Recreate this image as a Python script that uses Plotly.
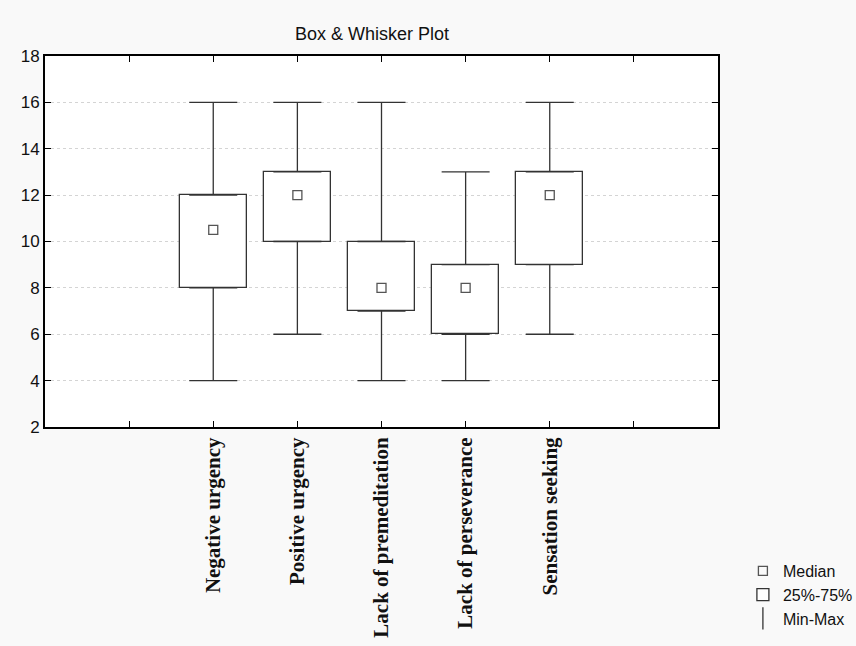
import plotly.graph_objects as go

categories = ["Negative urgency", "Positive urgency", "Lack of premeditation",
              "Lack of perseverance", "Sensation seeking"]
mins = [4, 6, 4, 4, 6]
q1s = [8, 10, 7, 6, 9]
medians = [10.5, 12, 8, 8, 12]
q3s = [12, 13, 10, 9, 13]
maxs = [16, 16, 16, 13, 16]
y_ticks = [2, 4, 6, 8, 10, 12, 14, 16, 18]

xs = [i + 2 for i in range(len(categories))]
line_col = "#333333"

fig = go.Figure()
# boxes (25%-75%)
fig.add_trace(go.Bar(
    x=xs, y=[b - a for a, b in zip(q1s, q3s)], base=q1s, width=0.8,
    marker=dict(color="white", line=dict(color=line_col, width=1.3)),
    name="25%-75%", showlegend=True, legendrank=2, hoverinfo="skip"))
# upper whiskers
fig.add_trace(go.Scatter(
    x=xs, y=q3s, mode="markers", marker=dict(size=1, opacity=0),
    error_y=dict(type="data", symmetric=False,
                 array=[m - q for m, q in zip(maxs, q3s)],
                 arrayminus=[0] * len(xs), color=line_col, thickness=1.3, width=24),
    showlegend=False, hoverinfo="skip"))
# lower whiskers
fig.add_trace(go.Scatter(
    x=xs, y=q1s, mode="markers", marker=dict(size=1, opacity=0),
    error_y=dict(type="data", symmetric=False,
                 array=[0] * len(xs),
                 arrayminus=[q - m for m, q in zip(mins, q1s)],
                 color=line_col, thickness=1.3, width=24),
    showlegend=False, hoverinfo="skip"))
# medians
fig.add_trace(go.Scatter(
    x=xs, y=medians, mode="markers",
    marker=dict(symbol="square-open", size=9, color="#555555", line=dict(width=1.3)),
    name="Median", legendrank=1))
# legend entry for min-max
fig.add_trace(go.Scatter(
    x=[None], y=[None], mode="markers",
    marker=dict(symbol="line-ns-open", size=16, color=line_col, line=dict(width=1.3)),
    name="Min-Max", legendrank=3))

fig.update_layout(
    width=856, height=646,
    paper_bgcolor="#f9f9f9", plot_bgcolor="white",
    margin=dict(l=45, r=138, t=56, b=219, autoexpand=False),
    title=dict(text="Box & Whisker Plot", x=372 / 856, xanchor="center",
               y=1 - 34 / 646, yanchor="middle",
               font=dict(family="Liberation Sans, Arial", size=18, color="#111111")),
    font=dict(family="Liberation Sans, Arial", size=17, color="#111111"),
    showlegend=True,
    legend=dict(x=1.037, y=-0.342, xanchor="left", yanchor="top", bgcolor="rgba(0,0,0,0)",
                font=dict(size=16), itemwidth=30, tracegroupgap=0),
    bargap=0,
)
fig.update_xaxes(
    range=[0, 8], tickmode="array", tickvals=[1] + xs + [7],
    ticktext=[""] + [f"<b>{c}</b>" for c in categories] + [""],
    tickangle=-90, ticks="inside", ticklen=6, tickcolor="black",
    showline=True, linecolor="black", linewidth=2, mirror="ticks",
    showgrid=False, zeroline=False,
    tickfont=dict(family="Liberation Serif, Times New Roman", size=21, color="#111111"))
fig.update_yaxes(
    range=[2, 18], tickmode="array", tickvals=y_ticks, ticks="inside", ticklen=6,
    tickcolor="black", showline=True, linecolor="black", linewidth=2, mirror="ticks",
    showgrid=True, gridcolor="#d4d4d4", griddash="dot", gridwidth=1, zeroline=False,
    tickfont=dict(size=17))

fig.write_html("out.html", config={"displayModeBar": False},
               post_script="document.body.style.margin='0';document.body.style.background='#f9f9f9';")
